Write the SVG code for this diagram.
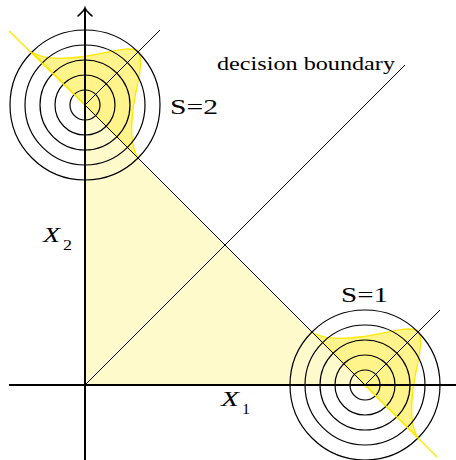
<svg xmlns="http://www.w3.org/2000/svg" width="456" height="460" viewBox="0 0 456 460">
<style>
.tri{fill:#fffacc;stroke:none}
.blob{fill:#fff48c;stroke:#ffe800;stroke-width:1.3}
.ring{fill:none;stroke:#000;stroke-width:1.2}
.thin{fill:none;stroke:#000;stroke-width:1}
.yel{fill:none;stroke:#ffe800;stroke-width:1.3}
.axis{fill:none;stroke:#000;stroke-width:2}
.lbl{fill:#000;font-family:"Liberation Serif","DejaVu Serif",serif}
</style>
<defs>
<path id="blobshape" d="M-54,-54 C-46,-47 -30,-45 -5,-48 C20,-51 44,-60 53,-54 C60,-44 51,-20 48,5 C45,30 47,46 54,54 Z"/>
<g id="rings">
<circle r="15"/><circle r="30"/><circle r="45"/><circle r="60"/><circle r="75"/>
</g>
</defs>
<g id="region">
<polygon class="tri" points="85,385 85,105 365,385"/>
</g>
<g id="dist2">
<use href="#blobshape" class="blob" transform="translate(85,105)"/>
<use href="#rings" class="ring" transform="translate(85,105)"/>
</g>
<g id="dist1">
<use href="#blobshape" class="blob" transform="translate(365,385)"/>
<use href="#rings" class="ring" transform="translate(365,385)"/>
</g>
<g id="connectors">
<line class="yel" x1="9" y1="31" x2="85" y2="105"/>
<line class="yel" x1="365" y1="385" x2="437" y2="457"/>
<line class="thin" x1="85" y1="105" x2="365" y2="385"/>
<line class="thin" x1="85" y1="105" x2="160" y2="30"/>
<line class="thin" x1="365" y1="385" x2="440" y2="310"/>
<line class="thin" x1="85" y1="385" x2="405" y2="65"/>
</g>
<g id="axes">
<line class="axis" x1="9" y1="385" x2="456" y2="385"/>
<line class="axis" x1="85" y1="460" x2="85" y2="9"/>
<path d="M78,16 C81,13 84,11 85,8 C86,11 89,13 92,16" fill="none" stroke="#000" stroke-width="1.6" stroke-linecap="round"/>
</g>
<g id="labels">
<text class="lbl" x="217" y="70" font-size="19" textLength="178" lengthAdjust="spacingAndGlyphs">decision boundary</text>
<text class="lbl" x="170" y="114" font-size="22" textLength="48" lengthAdjust="spacingAndGlyphs">S=2</text>
<text class="lbl" x="341" y="302" font-size="22" textLength="47" lengthAdjust="spacingAndGlyphs">S=1</text>
<text class="lbl" x="43" y="242" font-size="20" font-style="italic" textLength="17" lengthAdjust="spacingAndGlyphs">X</text>
<text class="lbl" x="63" y="250" font-size="14" textLength="9" lengthAdjust="spacingAndGlyphs">2</text>
<text class="lbl" x="221" y="406" font-size="20" font-style="italic" textLength="18" lengthAdjust="spacingAndGlyphs">X</text>
<text class="lbl" x="242" y="414" font-size="14" textLength="8" lengthAdjust="spacingAndGlyphs">1</text>
</g>
</svg>
